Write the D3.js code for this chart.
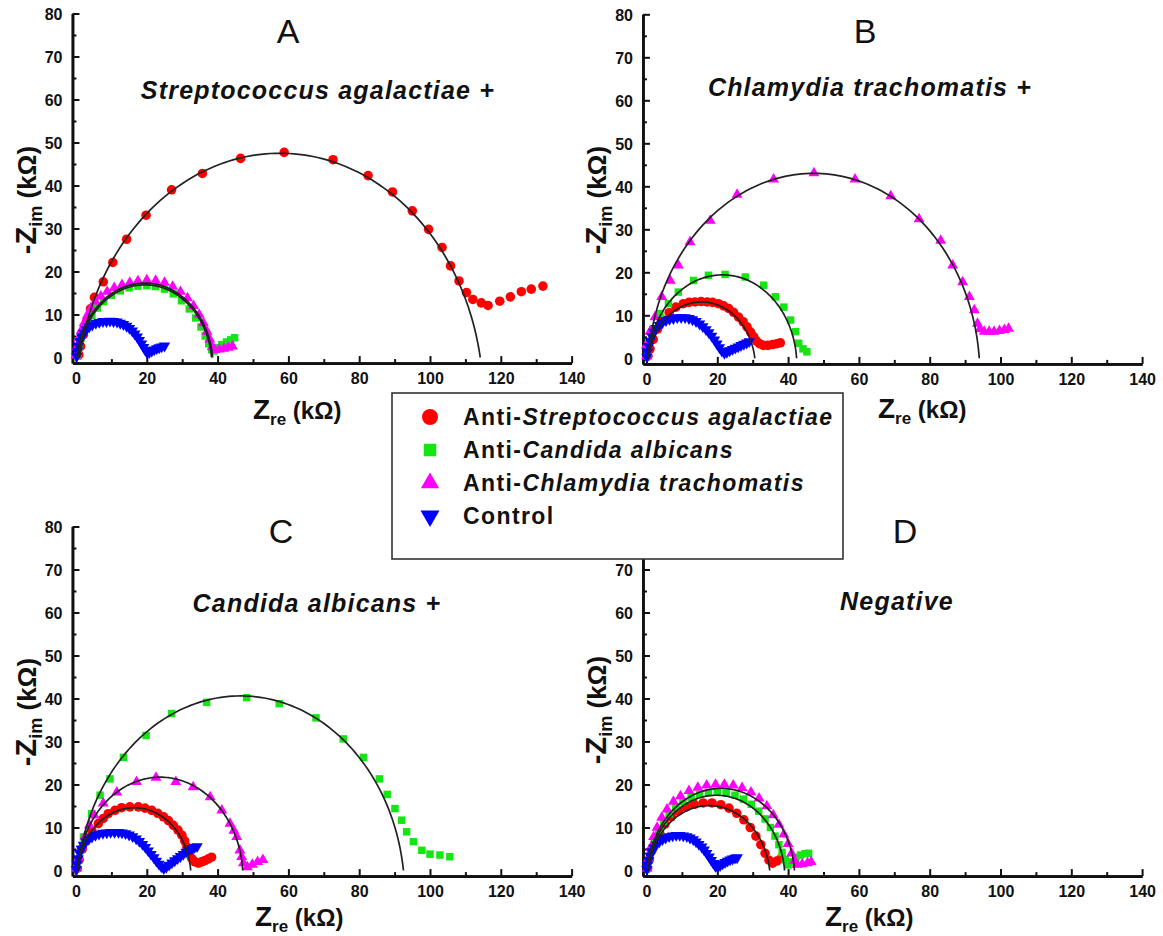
<!DOCTYPE html>
<html>
<head>
<meta charset="utf-8">
<script src="https://cdn.jsdelivr.net/npm/d3@7"></script>
<style>
body { margin: 0; background: #fff; }
text { font-family: "Liberation Sans", Arial, sans-serif; fill: #111; }
</style>
</head>
<body>
<script>
// Tick values (kΩ)
var xMajor = [0, 20, 40, 60, 80, 100, 120, 140],
    xMinor = [10, 30, 50, 70, 90, 110, 130],
    yMajor = [0, 10, 20, 30, 40, 50, 60, 70, 80],
    yMinor = [5, 15, 25, 35, 45, 55, 65, 75];

// Series, legend and panel labels
var seriesNames = ["Streptococcus agalactiae", "Candida albicans", "Chlamydia trachomatis", "Control"],
    seriesColors = ["#ff0000", "#14e614", "#ff00ff", "#0000ff"],
    panelLetters = ["A", "B", "C", "D"],
    panelTitles = ["Streptococcus agalactiae +", "Chlamydia trachomatis +", "Candida albicans +", "Negative"];

// Panel A: [Zre, -Zim] in kΩ
var aRed = [[0.8,0.6],[1.3,2.6],[2.1,5.3],[3.1,8.6],[4.1,11.3],[5.2,14.0],[7.7,17.6],[10.4,22.1],[14.3,27.5],[19.8,33.1],[27.0,39.0],[35.7,42.8],[46.5,46.3],[58.8,47.7],[72.6,46.0],[82.5,42.3],[89.4,38.5],[95.0,34.1],[99.6,29.8],[103.4,25.6],[105.8,21.3],[108.2,17.8],[110.3,15.1],[112.1,13.5],[114.5,12.7],[116.4,12.1],[119.7,13.1],[122.7,14.1],[125.8,15.3],[128.6,15.9],[131.9,16.6]];
var aGreen = [[0.5,0.3],[0.8,2.5],[1.4,4.5],[2.2,6.3],[3.2,8],[4.5,9.8],[6,11.5],[7.8,13],[10,14.5],[12.5,15.5],[15,16.2],[17.5,16.6],[20,16.7],[22.5,16.5],[25,15.9],[27.5,14.8],[29.8,13.2],[32,11.3],[33.8,9.2],[35.3,7.1],[36.5,5],[37.5,3.2],[38.3,1.8],[39,1.5],[40,2.3],[41.2,3],[42.5,3.6],[43.7,4.1],[44.8,4.6]];
var aPink = [[0,0.5],[0.3,2.5],[0.8,4.5],[1.5,6.3],[2.3,8],[3.2,9.8],[4.2,11.5],[5.5,13],[7,14.2],[8.8,15.3],[10.8,16.2],[13,16.9],[15.2,17.4],[17.5,17.8],[20,18],[22.5,17.9],[25,17.4],[27.3,16.5],[29.5,15.3],[31.5,13.8],[33.2,12],[34.8,10],[36,8],[37,6],[37.8,4.2],[38.5,2.5],[39.2,1.8],[40.5,1.9],[41.8,2.1],[43,2.3],[44.2,2.6]];
var aBlue = [[0.2,0.3],[0.4,1.5],[0.7,2.7],[1.1,3.8],[1.6,4.8],[2.2,5.7],[2.9,6.5],[3.7,7.1],[4.6,7.6],[5.6,8],[6.6,8.2],[7.6,8.4],[8.6,8.4],[9.6,8.5],[10.6,8.4],[11.6,8.3],[12.5,8],[13.4,7.7],[14.3,7.3],[15.1,6.8],[15.9,6.2],[16.6,5.5],[17.3,4.8],[17.9,4],[18.5,3.2],[19.1,2.4],[19.6,1.7],[20.1,1.1],[20.7,1.2],[21.4,1.5],[22.1,1.8],[22.8,2.1],[23.5,2.3],[24.2,2.5],[25,2.7]];

// Panel B
var bRed = [[0.4,0.5],[1,2.2],[1.9,4.4],[3.1,6.8],[4.6,8.9],[6.4,10.6],[8.3,11.9],[10.4,12.7],[12,13],[13.7,13.1],[15.4,13.2],[17.1,13.1],[18.7,13],[20.3,12.7],[21.8,12.2],[23.2,11.6],[24.6,10.7],[26.0,9.6],[27.3,8.5],[28.4,7.3],[29.4,6.1],[30.3,5.0],[31.1,4],[31.9,3.4],[33,3.0],[34.3,3.0],[35.6,3.2],[36.8,3.4],[37.8,3.6]];
var bGreen = [[0.3,0.5],[0.5,3.1],[1.9,6.9],[3.8,10.4],[6.2,12.7],[9.0,15.4],[13.3,18.1],[17.5,19.3],[22.2,19.5],[27.9,18.9],[33.1,17.0],[36.4,14.3],[38.8,11.9],[40.7,8.9],[42.1,6.2],[43.0,3.5],[44.2,2.2],[45.3,1.5]];
var bPink = [[0,0.5],[0,3.1],[1,6.2],[2.4,9.6],[4.3,14.3],[6.7,18.1],[9.0,21.6],[12.3,27.0],[18.0,32.0],[25.6,38.1],[35.9,41.6],[47.3,43.1],[58.9,41.6],[69.0,37.7],[77.0,32.4],[83.1,27.4],[86.5,21.6],[89.3,17.7],[91.2,14.3],[92.6,11.2],[93.5,8.1],[94.2,6.8],[95.4,6.2],[96.8,6.2],[98.2,6.2],[99.7,6.4],[101.1,6.6],[102.3,6.9]];
var bBlue = [[0.1,0.3],[0.3,1.5],[0.6,2.8],[1,4],[1.5,5.1],[2.1,6.1],[2.8,7],[3.6,7.7],[4.5,8.3],[5.5,8.8],[6.5,9.1],[7.6,9.3],[8.7,9.5],[9.8,9.5],[10.9,9.5],[12,9.3],[13,9],[14,8.6],[15,8],[15.9,7.4],[16.8,6.7],[17.6,6],[18.4,5.2],[19.2,4.3],[19.9,3.4],[20.6,2.5],[21.3,1.7],[22,1.2],[22.7,1.4],[23.5,1.8],[24.3,2.1],[25.1,2.4],[25.9,2.7],[26.7,3],[27.5,3.3],[28.3,3.6],[29,3.9]];

// Panel C
var cRed = [[0.3,0.5],[0.9,2.5],[1.8,5],[3,7.3],[4.5,9.2],[6.3,10.9],[7.7,12.1],[9.1,13.2],[11,14],[12.9,14.6],[15.2,14.8],[17.6,14.8],[19.5,14.5],[21.4,14.0],[23.1,13.3],[24.7,12.5],[26.1,11.6],[27.5,10.5],[28.8,9.4],[29.9,8.2],[30.7,6.9],[31.3,5.5],[32,4.1],[32.7,2.8],[33.6,2],[34.6,1.7],[35.5,2],[36.4,2.3],[37.4,2.7],[38.3,3.1]];
var cGreen = [[0.3,0.5],[0.7,2.5],[1.3,5],[2.1,7.8],[4.4,13.2],[6.8,17.5],[9.6,21.3],[13.4,26.3],[19.8,31.4],[27.0,36.5],[36.9,39.1],[48.2,40.2],[57.4,38.8],[67.8,35.5],[75.5,30.6],[81.2,26.3],[85.7,21.3],[87.9,17.7],[90.1,14.4],[92.0,11.7],[93.4,9.0],[95.3,6.7],[97.7,4.7],[100,3.8],[102.8,3.6],[105.6,3.2]];
var cPink = [[0.3,0.5],[0.8,3],[1.6,5.5],[2.6,8],[3.8,10.5],[5.2,12.8],[7.7,15.6],[11.5,18.2],[17.1,20.6],[22.6,21.6],[28.2,20.6],[33.1,19.4],[37.9,17.1],[41.2,14.0],[43.5,10.9],[44.6,9.3],[45.4,7.8],[46.3,4.7],[46.8,3.2],[47.3,1.7],[48.4,0.8],[49.8,1.4],[51.3,2.0],[52.8,2.5]];
var cBlue = [[0.1,0.3],[0.3,1.5],[0.6,2.8],[1,4],[1.5,5],[2.1,5.9],[2.8,6.7],[3.6,7.3],[4.5,7.8],[5.5,8.2],[6.5,8.5],[7.6,8.7],[8.7,8.8],[9.8,8.9],[10.9,8.9],[12,8.9],[13,8.8],[14,8.6],[15,8.3],[16,7.9],[17,7.4],[17.9,6.8],[18.8,6.1],[19.6,5.4],[20.4,4.6],[21.2,3.8],[22,3],[22.7,2.2],[23.4,1.5],[24.1,0.9],[24.8,0.5],[25.5,0.8],[26.3,1.3],[27.1,1.8],[27.9,2.3],[28.7,2.8],[29.5,3.3],[30.3,3.8],[31.1,4.3],[31.9,4.7],[32.7,5.1],[33.5,5.4],[34.2,5.6]];

// Panel D
var dRed = [[0.3,0.5],[0.8,2.5],[1.5,4.6],[2.5,6.8],[3.7,8.8],[5.2,10.8],[7,12.5],[9,13.8],[11.2,14.8],[13.5,15.4],[16,15.7],[18.5,15.7],[21,15.3],[23.3,14.5],[25.5,13.3],[27.5,11.8],[29.3,10],[30.9,8],[32.3,6],[33.5,4],[34.6,2.4],[35.6,1.7],[36.8,2.2],[38,2.8]];
var dGreen = [[0.3,0.5],[0.8,2.7],[1.5,5],[2.4,7.3],[3.5,9.4],[4.8,11.4],[6.4,13.2],[8.2,14.8],[10.3,16],[12.6,17],[15,17.7],[17.5,18.1],[20,18.2],[22.5,18],[25,17.5],[27.4,16.6],[29.6,15.4],[31.7,13.8],[33.5,12],[35,10],[36.3,8],[37.4,6],[38.3,4.2],[39.2,2.5],[40,1.3],[41,2],[42.2,3],[43.5,3.6],[44.8,3.9],[45.8,4]];
var dPink = [[0.2,0.5],[0.6,2.8],[1.2,5.3],[2,7.8],[3,10],[4.3,12.3],[5.8,14.2],[7.6,16],[9.6,17.3],[12,18.5],[14.5,19.3],[17,19.8],[19.5,20],[22,20],[24.5,19.8],[27,19.2],[29.5,18.2],[31.8,16.8],[34,15],[35.8,12.9],[37.4,10.7],[38.8,8.4],[40,6.2],[41,4],[41.8,2.3],[42.5,1.4],[44,1.5],[45.5,1.7],[46.5,2]];
var dBlue = [[0.1,0.3],[0.3,1.3],[0.6,2.4],[1,3.4],[1.5,4.4],[2.1,5.3],[2.8,6],[3.6,6.7],[4.5,7.2],[5.4,7.6],[6.4,7.9],[7.4,8.1],[8.4,8.2],[9.4,8.2],[10.4,8.1],[11.4,7.9],[12.3,7.6],[13.2,7.2],[14,6.7],[14.8,6.1],[15.6,5.5],[16.3,4.8],[17,4],[17.7,3.2],[18.3,2.4],[18.9,1.7],[19.5,1],[20.1,0.8],[20.8,1.2],[21.5,1.6],[22.2,1.9],[22.9,2.2],[23.6,2.5],[24.3,2.7],[25,2.9],[25.6,3]];

// Fitted arcs: [left intercept, right intercept, peak height]; null = no fit
var fitsA = [[1.0, 114.2, 47.5], [0.6, 38.3, 16.9], [0.3, 38.6, 17.3], null],
    fitsB = [[0.5, 30.6, 13.1], [0.5, 42.4, 19.4], [0.5, 94.0, 43.0], null],
    fitsC = [[0.5, 32.4, 14.6], [0.5, 92.5, 40.6], [0.5, 47.1, 21.7], null],
    fitsD = [[0.5, 34.8, 15.1], [0.5, 39.0, 17.5], [0.3, 41.8, 19.1], null];

var panels = [
    {data: [aRed, aGreen, aPink, aBlue], fits: fitsA, ox: 76, oy: 357.5,
     xt: [253, 419], yt: [36, 200], lt: [288, 43], st: [318, 99]},
    {data: [bRed, bGreen, bPink, bBlue], fits: fitsB, ox: 646.5, oy: 358.3,
     xt: [878, 418], yt: [606, 200], lt: [865, 43], st: [870, 96]},
    {data: [cRed, cGreen, cPink, cBlue], fits: fitsC, ox: 76, oy: 870.5,
     xt: [255, 926], yt: [36, 712], lt: [281, 543], st: [317, 612]},
    {data: [dRed, dGreen, dPink, dBlue], fits: fitsD, ox: 646.5, oy: 870.5,
     xt: [825, 926], yt: [606, 710], lt: [905, 543], st: [897, 610]}
];

var width = 1163, height = 936;
var svg = d3.select("body").append("svg")
    .attr("width", width)
    .attr("height", height);

var symbolTypes = [d3.symbolCircle, d3.symbolSquare, d3.symbolTriangle, d3.symbolTriangle],
    symbolSizes = [72, 56, 52, 56];

function drawSymbol(sel, i, scale) {
    sel.attr("d", d3.symbol().type(symbolTypes[i]).size(symbolSizes[i] * (scale || 1)))
        .attr("fill", seriesColors[i]);
}

// Depressed semicircle through (s,0) and (e,0) with top at height h
function arcPoints(f) {
    var c = (f[1] - f[0]) / 2, cx = f[0] + c,
        d = (c * c - f[2] * f[2]) / (2 * f[2]),
        r = f[2] + d,
        t0 = Math.asin(Math.max(-1, Math.min(1, d / r))),
        pts = [];
    for (var k = 0; k <= 120; k++) {
        var t = t0 + (Math.PI - 2 * t0) * k / 120;
        pts.push([cx - r * Math.cos(t), -d + r * Math.sin(t)]);
    }
    return pts;
}

panels.forEach(function(p, pi) {
    var x = d3.scaleLinear().domain([-1, 140]).range([p.ox - 3.54, p.ox + 140 * 3.54]);
    var y = d3.scaleLinear().domain([-1.3, 80]).range([p.oy + 1.3 * 4.3, p.oy - 80 * 4.3]);
    var g = svg.append("g").attr("class", "panel");
    var y0 = y(-1.3), x0 = x(-1);

    // Minor ticks
    g.append("g").attr("transform", "translate(0," + y0 + ")")
        .call(d3.axisBottom(x).tickValues(xMinor).tickSize(-4).tickSizeOuter(0).tickFormat(""));
    g.append("g").attr("transform", "translate(" + x0 + ",0)")
        .call(d3.axisLeft(y).tickValues(yMinor).tickSize(-4).tickSizeOuter(0).tickFormat(""));

    // Major ticks
    g.append("g").attr("transform", "translate(0," + y0 + ")")
        .call(d3.axisBottom(x).tickValues(xMajor).tickSize(-7).tickSizeOuter(0).tickPadding(10));
    var ya = g.append("g").attr("transform", "translate(" + x0 + ",0)")
        .call(d3.axisLeft(y).tickValues(yMajor).tickSize(-7).tickSizeOuter(0).tickPadding(10));

    g.selectAll(".domain").attr("stroke", "#111").attr("stroke-width", 2.6);
    g.selectAll(".tick line").attr("stroke", "#111").attr("stroke-width", 2);
    g.selectAll(".tick text")
        .style("font-family", "'Liberation Sans', Arial, sans-serif")
        .style("font-weight", "bold")
        .style("font-size", "16px")
        .attr("fill", "#222");
    ya.selectAll(".tick text").attr("dy", "0.36em");

    // Markers: red, green, magenta, blue
    p.data.forEach(function(series, si) {
        g.append("g").selectAll("path")
            .data(series)
            .enter()
            .append("path")
            .attr("transform", function(d) {
                return "translate(" + x(d[0]) + "," + y(d[1]) + ")" + (si === 3 ? " rotate(180)" : "");
            })
            .call(drawSymbol, si);
    });

    // Fitted lines on top
    var line = d3.line().x(function(d) { return x(d[0]); }).y(function(d) { return y(d[1]); });
    p.fits.forEach(function(f) {
        if (!f) return;
        g.append("path")
            .datum(arcPoints(f))
            .attr("d", line)
            .attr("fill", "none")
            .attr("stroke", "#222")
            .attr("stroke-width", 1.7);
    });

    // Panel letter and subtitle
    g.append("text")
        .attr("x", p.lt[0]).attr("y", p.lt[1])
        .attr("text-anchor", "middle")
        .style("font-size", "34px")
        .text(panelLetters[pi]);
    g.append("text")
        .attr("x", p.st[0]).attr("y", p.st[1])
        .attr("text-anchor", "middle")
        .style("font-size", "25px")
        .style("font-weight", "bold")
        .style("font-style", "italic")
        .style("letter-spacing", "1.2px")
        .text(panelTitles[pi]);

    // X axis title: Zre (kΩ)
    var xt = g.append("text")
        .attr("x", p.xt[0]).attr("y", p.xt[1])
        .style("font-weight", "bold");
    xt.append("tspan").style("font-size", "28px").text("Z");
    xt.append("tspan").style("font-size", "17px").attr("dy", 6).text("re");
    xt.append("tspan").style("font-size", "24px").attr("dy", -6).text(" (kΩ)");

    // Y axis title: -Zim (kΩ)
    var yt = g.append("text")
        .attr("transform", "translate(" + p.yt[0] + "," + p.yt[1] + ") rotate(-90)")
        .attr("text-anchor", "middle")
        .style("font-weight", "bold");
    yt.append("tspan").style("font-size", "29px").text("-Z");
    yt.append("tspan").style("font-size", "18px").attr("dy", 6).text("im");
    yt.append("tspan").style("font-size", "26px").attr("dy", -6).text(" (kΩ)");
});

// Legend
var legend = svg.append("g").attr("class", "legend");
legend.append("rect")
    .attr("x", 392).attr("y", 393)
    .attr("width", 451).attr("height", 166)
    .attr("fill", "#fff")
    .attr("stroke", "#333")
    .attr("stroke-width", 1.6);

var rowY = d3.scalePoint().domain(d3.range(4)).range([417, 516]);
seriesNames.forEach(function(name, i) {
    legend.append("path")
        .attr("transform", "translate(430," + rowY(i) + ")" + (i === 3 ? " rotate(180)" : ""))
        .call(drawSymbol, i, 2.8);
    var t = legend.append("text")
        .attr("x", 463).attr("y", rowY(i) + 8)
        .style("font-size", "23px")
        .style("font-weight", "bold")
        .style("letter-spacing", "1.4px");
    if (name === "Control") {
        t.text(name);
    } else {
        t.append("tspan").text("Anti-");
        t.append("tspan").style("font-style", "italic").text(name);
    }
});
</script>
</body>
</html>
